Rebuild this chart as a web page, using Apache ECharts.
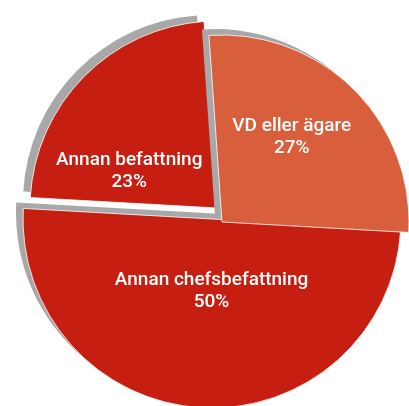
<!DOCTYPE html>
<html>
<head>
<meta charset="utf-8">
<script src="https://cdn.jsdelivr.net/npm/echarts@6/dist/echarts.min.js"></script>
<style>
  html, body { margin: 0; padding: 0; background: #fff; }
  #chart { width: 409px; height: 406px; }
</style>
</head>
<body>
<div id="chart"></div>
<script>
// data
const categories = ['VD eller ägare', 'Annan chefsbefattning', 'Annan befattning'];
const shares = [27, 50, 23];

// look
const sliceColors = ['#d85e3c', '#c61e11', '#c61e11'];
// each slice is drawn by its own pie so it can sit slightly apart (exploded 3D look)
const sliceCenters = [[222, 222], [212, 219], [217, 208]];
const sliceRadius = [187, 189, 187];
const labelShift = [[2, -16], [5, -25], [-19, 31]];
const drawOrder = [2, 1, 0];

const chart = echarts.init(document.getElementById('chart'));

// body = filled slice with grey offset "depth"; edge = thin light outline on top
const makeSeries = (idx, layer) => ({
  type: 'pie',
  center: sliceCenters[idx],
  radius: [0, sliceRadius[idx]],
  startAngle: 94,
  clockwise: true,
  avoidLabelOverlap: false,
  silent: true,
  labelLine: { show: false },
  labelLayout: () => ({ dx: labelShift[idx][0], dy: labelShift[idx][1] }),
  data: categories.map((name, i) => {
    const on = i === idx;
    let itemStyle = { color: 'rgba(0,0,0,0)', borderWidth: 0 };
    if (on && layer === 'body') {
      itemStyle = {
        color: sliceColors[i],
        borderWidth: 0,
        shadowColor: '#a8a8a8',
        shadowBlur: 0.1,
        shadowOffsetX: -7,
        shadowOffsetY: -6
      };
    } else if (on) {
      itemStyle = { color: 'rgba(0,0,0,0)', borderColor: 'rgba(255,255,255,0.8)', borderWidth: 1 };
    }
    return {
      name,
      value: shares[i],
      itemStyle,
      label: (on && layer === 'edge') ? {
        show: true,
        position: 'inside',
        formatter: '{b}\n{c}%',
        color: '#fff',
        fontFamily: 'Roboto, sans-serif',
        fontWeight: 500,
        fontSize: 19,
        lineHeight: 22,
        align: 'center'
      } : { show: false }
    };
  })
});

const series = [];
drawOrder.forEach(idx => {
  series.push(makeSeries(idx, 'body'));
  series.push(makeSeries(idx, 'edge'));
});

chart.setOption({
  animation: false,
  backgroundColor: '#fff',
  series
});
</script>
</body>
</html>
